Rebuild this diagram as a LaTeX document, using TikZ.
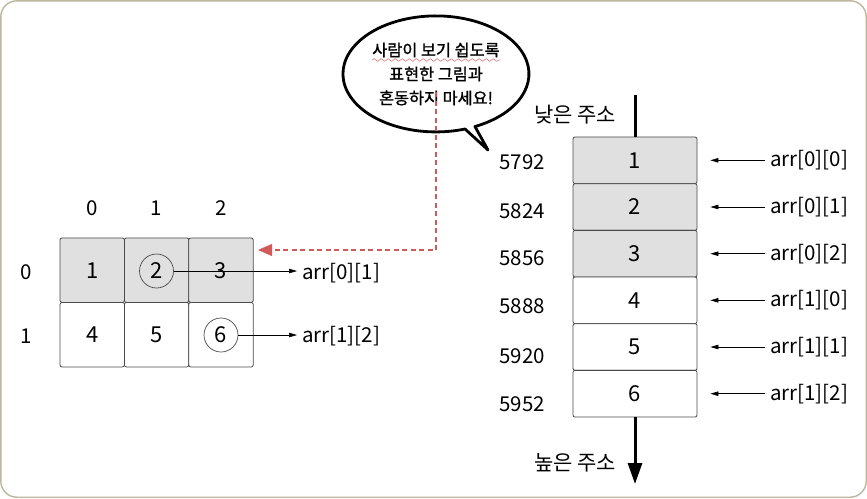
\documentclass[tikz,border=0pt]{standalone}
\usepackage{fontspec}
\setmainfont{Noto Sans CJK KR}
\newfontfamily\bubfont{Noto Sans CJK KR}[FakeBold=1.2]
\usetikzlibrary{arrows.meta,decorations.pathmorphing,calc}
\definecolor{framec}{HTML}{BDB6A0}
\definecolor{cellgray}{HTML}{E0E0E0}
\definecolor{cellline}{HTML}{4A4A4A}
\definecolor{dashred}{HTML}{D05A5A}
\begin{document}
\begin{tikzpicture}[x=1pt,y=-1pt,
  cellbox/.style={draw=cellline,line width=0.8pt,rounded corners=2pt,minimum width=64.4pt,minimum height=64.5pt,inner sep=0pt,font=\fontsize{22}{24}\selectfont},
  membox/.style={draw=cellline,line width=0.8pt,rounded corners=2pt,minimum width=124pt,minimum height=46.67pt,inner sep=0pt,font=\fontsize{22}{24}\selectfont},
  lbl/.style={inner sep=0pt,font=\fontsize{20.5}{22}\selectfont},
  ring/.style={draw=cellline,line width=0.7pt,circle,minimum size=34pt,inner sep=0pt},
  ptr/.style={draw=black,line width=0.6pt,-{Triangle[length=8pt,width=4.5pt]}},
  bubtext/.style={font=\bubfont\fontsize{16.3}{24}\selectfont,align=center,inner sep=0pt}
]
\useasboundingbox (0,0) rectangle (867,498);
% frame
\draw[framec,line width=1.4pt,rounded corners=16pt] (0.8,0.8) rectangle (866.2,497.2);

% left grid
\node[cellbox,fill=cellgray] (c00) at (92.2,270.2) {1};
\node[cellbox,fill=cellgray] (c01) at (156.6,270.2) {2};
\node[cellbox,fill=cellgray] (c02) at (221,270.2) {3};
\node[cellbox,fill=white] (c10) at (92.2,334.7) {4};
\node[cellbox,fill=white] (c11) at (156.6,334.7) {5};
\node[cellbox,fill=white] (c12) at (221,334.7) {6};
\node[lbl] (h0) at (92,208) {0};
\node[lbl] (h1) at (156.5,208) {1};
\node[lbl] (h2) at (221,208) {2};
\node[lbl] (r0) at (26,272) {0};
\node[lbl] (r1) at (26,336) {1};
\node[ring] (k2) at (156.5,271) {};
\node[ring] (k6) at (221,335) {};
\node[lbl,anchor=west] (l01) at (302,273) {arr[0][1]};
\node[lbl,anchor=west] (l12) at (302,336) {arr[1][2]};
\draw[ptr,shorten >=5pt] (k2.east) -- (k2.east-|l01.west);
\draw[ptr,shorten >=5pt] (k6.east) -- (k6.east-|l12.west);

% bubble
\fill[white] (465,129) arc[start angle=71.8,end angle=425.2,x radius=93,y radius=58] -- (488,150) -- cycle;
\draw[black,line width=2.8pt,line join=round] (465,129) arc[start angle=71.8,end angle=425.2,x radius=93,y radius=58] coordinate (tb) -- (488,150) coordinate (tip) -- cycle;
\node[bubtext] (bub) at (436,74) {사람이 보기 쉽도록\\표현한 그림과\\혼동하지 마세요!};
\draw[dashred!80,line width=0.6pt,decorate,decoration={snake,amplitude=1.3pt,segment length=7pt}] (372,60) -- (500,60);

% dashed red connector
\coordinate (ds) at (436,92);
\coordinate (dt) at (258,250);
\draw[dashred,line width=1.3pt,dash pattern=on 5pt off 3.5pt] (ds) |- ($(dt)+(10,0)$);
\draw[dashred,-{Triangle[length=14pt,width=12pt]}] ($(dt)+(12,0)$) -- (dt);

% memory column
\node[membox,fill=cellgray] (m1) at (635,160.3) {1};
\node[membox,fill=cellgray] (m2) at (635,207) {2};
\node[membox,fill=cellgray] (m3) at (635,253.7) {3};
\node[membox,fill=white] (m4) at (635,300.3) {4};
\node[membox,fill=white] (m5) at (635,347) {5};
\node[membox,fill=white] (m6) at (635,393.7) {6};
\coordinate (top) at (635,95);
\coordinate (bot) at (635,484);
\draw[line width=3pt] (top) -- (m1.north);
\draw[line width=3pt,-{Triangle[length=21pt,width=14pt]}] (m6.south) -- (bot);
\node[lbl,font=\fontsize{21}{22}\selectfont] (low) at (575,115) {낮은 주소};
\node[lbl,font=\fontsize{21}{22}\selectfont] (high) at (575,463) {높은 주소};

\node[lbl] (a1) at (522,162) {5792};
\node[lbl] (a2) at (522,211) {5824};
\node[lbl] (a3) at (522,258) {5856};
\node[lbl] (a4) at (522,306) {5888};
\node[lbl] (a5) at (522,356) {5920};
\node[lbl] (a6) at (522,404) {5952};

\foreach \i/\t in {1/arr[0][0],2/arr[0][1],3/arr[0][2],4/arr[1][0],5/arr[1][1],6/arr[1][2]}{
  \node[lbl,anchor=west] (p\i) at ($(m\i.center)+(135,0)$) {\t};
  \draw[ptr,shorten <=5pt,shorten >=13pt] (p\i.west) -- (m\i.east);
}
\end{tikzpicture}
\end{document}
